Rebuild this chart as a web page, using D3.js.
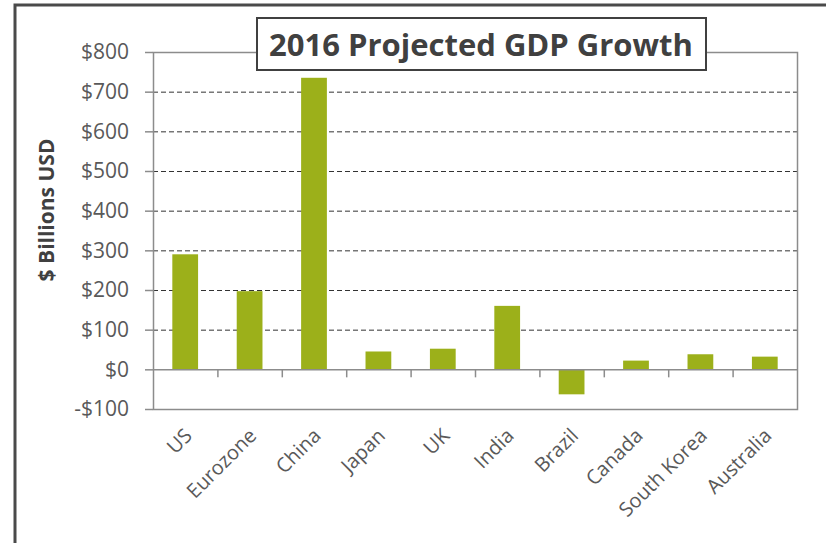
<!DOCTYPE html>
<html>
<head>
<meta charset="utf-8">
<script src="https://cdn.jsdelivr.net/npm/d3@7"></script>
<style>
  body { margin: 0; background: #fff; }
  svg { display: block; font-family: "Open Sans", sans-serif; }
</style>
</head>
<body>
<script>
// chart data
const countries = ["US", "Eurozone", "China", "Japan", "UK", "India", "Brazil", "Canada", "South Korea", "Australia"];
const growth = [290, 197, 735, 45, 52, 160, -63, 22, 38, 32];
const yTicks = [-100, 0, 100, 200, 300, 400, 500, 600, 700, 800];

const width = 826, height = 543;
const plot = { left: 153, right: 797, top: 52, bottom: 409 };

const svg = d3.select("body").append("svg")
  .attr("width", width)
  .attr("height", height);

// outer frame (runs off the right and bottom of the picture)
svg.append("rect")
  .attr("x", 15)
  .attr("y", 5)
  .attr("width", 900)
  .attr("height", 700)
  .attr("fill", "#fff")
  .attr("stroke", "#4a4a4a")
  .attr("stroke-width", 3);

const x = d3.scaleBand()
  .domain(countries)
  .range([plot.left, plot.right])
  .paddingInner(0.6)
  .paddingOuter(0.3);

const y = d3.scaleLinear()
  .domain([-100, 800])
  .range([plot.bottom, plot.top]);

// dashed gridlines
svg.append("g")
  .selectAll("line")
  .data(yTicks.filter(d => d > 0 && d < 800))
  .join("line")
  .attr("x1", plot.left)
  .attr("x2", plot.right)
  .attr("y1", d => y(d) + 0.5)
  .attr("y2", d => y(d) + 0.5)
  .attr("stroke", "#333")
  .attr("stroke-width", 1)
  .attr("stroke-dasharray", "5,3");

// plot area border
svg.append("rect")
  .attr("x", plot.left + 0.5)
  .attr("y", plot.top + 0.5)
  .attr("width", plot.right - plot.left)
  .attr("height", plot.bottom - plot.top)
  .attr("fill", "none")
  .attr("stroke", "#8c8c8c")
  .attr("stroke-width", 1.5);

// bars
svg.append("g")
  .selectAll("rect")
  .data(countries)
  .join("rect")
  .attr("x", d => x(d))
  .attr("width", x.bandwidth())
  .attr("y", (d, i) => y(Math.max(0, growth[i])))
  .attr("height", (d, i) => Math.abs(y(growth[i]) - y(0)))
  .attr("fill", "#9cb01a");

// y axis
const yAxis = svg.append("g")
  .attr("transform", `translate(${plot.left},0)`)
  .call(d3.axisLeft(y)
    .tickValues(yTicks)
    .tickSize(8)
    .tickPadding(16)
    .tickFormat(d => (d < 0 ? "-$" : "$") + Math.abs(d)));
yAxis.attr("font-family", null).attr("font-size", null);
yAxis.select(".domain").remove();
yAxis.selectAll(".tick line").attr("stroke", "#8c8c8c").attr("stroke-width", 1.5);
yAxis.selectAll(".tick text")
  .attr("fill", "#595959")
  .style("font-family", "'Open Sans', sans-serif")
  .style("font-size", "21px");

// horizontal axis at zero with ticks between categories
svg.append("line")
  .attr("x1", plot.left)
  .attr("x2", plot.right)
  .attr("y1", y(0) + 0.5)
  .attr("y2", y(0) + 0.5)
  .attr("stroke", "#8c8c8c")
  .attr("stroke-width", 1.5);

const step = x.step();
svg.append("g")
  .selectAll("line")
  .data(countries.slice(1))
  .join("line")
  .attr("x1", d => x(d) - step * 0.3 + 0.5)
  .attr("x2", d => x(d) - step * 0.3 + 0.5)
  .attr("y1", y(0))
  .attr("y2", y(0) + 8)
  .attr("stroke", "#8c8c8c")
  .attr("stroke-width", 1.5);

// category labels, rotated
svg.append("g")
  .selectAll("text")
  .data(countries)
  .join("text")
  .attr("transform", d => `translate(${x(d) + x.bandwidth() / 2 + 8},${plot.bottom + 28}) rotate(-45)`)
  .attr("text-anchor", "end")
  .attr("fill", "#595959")
  .style("font-size", "20px")
  .text(d => d);

// y axis title
svg.append("text")
  .attr("transform", "translate(54,210) rotate(-90)")
  .attr("text-anchor", "middle")
  .attr("fill", "#404040")
  .style("font-size", "21px")
  .style("font-weight", "bold")
  .text("$ Billions USD");

// title box
const titleG = svg.append("g");
titleG.append("rect")
  .attr("x", 257)
  .attr("y", 18)
  .attr("width", 449)
  .attr("height", 52)
  .attr("fill", "#fff")
  .attr("stroke", "#404040")
  .attr("stroke-width", 2);
titleG.append("text")
  .attr("x", 481)
  .attr("y", 56)
  .attr("text-anchor", "middle")
  .attr("fill", "#404040")
  .style("font-size", "31px")
  .style("font-weight", "bold")
  .text("2016 Projected GDP Growth");
</script>
</body>
</html>
